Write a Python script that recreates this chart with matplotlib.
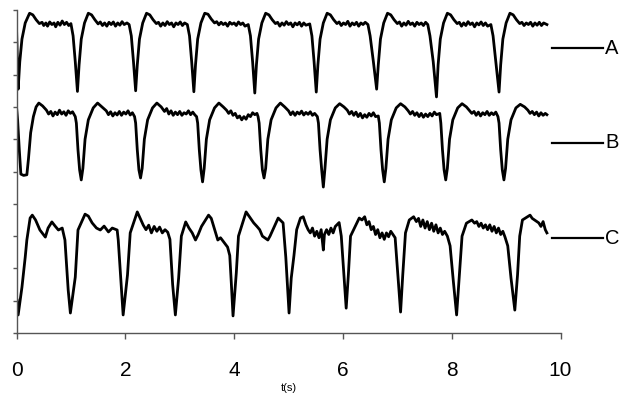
import matplotlib
matplotlib.use("Agg")
import matplotlib.pyplot as plt

plt.rcParams['font.family'] = ['Liberation Sans', 'DejaVu Sans']

# trace A (top)
tA = [0.0, 0.03, 0.06, 0.1, 0.16, 0.24, 0.3, 0.36, 0.42, 0.47, 0.5, 0.54, 0.57, 0.61, 0.65, 0.69, 0.72, 0.76, 0.8, 0.84, 0.88, 0.92, 0.96, 1.0, 1.04, 1.08, 1.12,
      1.15, 1.19, 1.25, 1.32, 1.38, 1.44, 1.5, 1.54, 1.58, 1.62, 1.66, 1.7, 1.74, 1.78, 1.82, 1.86, 1.9, 1.94, 1.98, 2.03, 2.07, 2.11, 2.15, 2.19,
      2.22, 2.26, 2.32, 2.39, 2.45, 2.51, 2.57, 2.61, 2.65, 2.69, 2.73, 2.77, 2.81, 2.85, 2.89, 2.93, 2.97, 3.01, 3.05, 3.09, 3.14, 3.18, 3.22, 3.26,
      3.29, 3.33, 3.39, 3.46, 3.52, 3.58, 3.64, 3.68, 3.72, 3.76, 3.8, 3.84, 3.88, 3.92, 3.96, 4.0, 4.04, 4.08, 4.12, 4.16, 4.2, 4.26, 4.3, 4.34, 4.38,
      4.41, 4.45, 4.51, 4.58, 4.64, 4.7, 4.76, 4.8, 4.84, 4.88, 4.92, 4.96, 5.0, 5.04, 5.08, 5.12, 5.16, 5.2, 5.24, 5.28, 5.32, 5.39, 5.43, 5.47, 5.51,
      5.54, 5.58, 5.64, 5.71, 5.77, 5.83, 5.89, 5.93, 5.97, 6.01, 6.05, 6.09, 6.13, 6.17, 6.21, 6.25, 6.29, 6.33, 6.37, 6.41, 6.46, 6.5, 6.56, 6.62,
      6.65, 6.69, 6.75, 6.82, 6.88, 6.94, 7.0, 7.04, 7.08, 7.12, 7.16, 7.2, 7.24, 7.28, 7.32, 7.36, 7.4, 7.44, 7.48, 7.52, 7.56, 7.6, 7.66, 7.72,
      7.75, 7.79, 7.85, 7.92, 7.98, 8.04, 8.1, 8.14, 8.18, 8.22, 8.26, 8.3, 8.34, 8.38, 8.42, 8.46, 8.5, 8.54, 8.58, 8.62, 8.66, 8.72, 8.76, 8.81, 8.87,
      8.9, 8.94, 9.0, 9.07, 9.13, 9.19, 9.25, 9.29, 9.33, 9.37, 9.41, 9.45, 9.49, 9.53, 9.57, 9.61, 9.65, 9.69, 9.75]
yA = [9.45, 7.55, 8.4, 9.1, 9.6, 9.9, 9.85, 9.7, 9.58, 9.62, 9.52, 9.6, 9.5, 9.63, 9.55, 9.6, 9.48, 9.62, 9.53, 9.66, 9.55, 9.62, 9.52, 9.58, 9.2, 8.4, 7.48,
      8.3, 9.1, 9.6, 9.9, 9.85, 9.7, 9.57, 9.63, 9.52, 9.6, 9.5, 9.62, 9.55, 9.63, 9.5, 9.6, 9.53, 9.64, 9.55, 9.6, 9.55, 9.2, 8.4, 7.5,
      8.3, 9.1, 9.6, 9.9, 9.85, 9.7, 9.58, 9.62, 9.5, 9.6, 9.52, 9.64, 9.55, 9.6, 9.48, 9.6, 9.55, 9.63, 9.52, 9.6, 9.55, 9.2, 8.4, 7.47,
      8.3, 9.1, 9.6, 9.9, 9.87, 9.72, 9.6, 9.64, 9.54, 9.62, 9.55, 9.6, 9.5, 9.62, 9.56, 9.6, 9.52, 9.63, 9.55, 9.6, 9.5, 9.55, 9.2, 8.4, 7.43,
      8.3, 9.1, 9.6, 9.9, 9.85, 9.7, 9.58, 9.62, 9.5, 9.6, 9.53, 9.64, 9.55, 9.6, 9.48, 9.6, 9.54, 9.62, 9.5, 9.6, 9.53, 9.57, 9.2, 8.4, 7.46,
      8.3, 9.1, 9.6, 9.9, 9.85, 9.7, 9.58, 9.63, 9.52, 9.6, 9.55, 9.65, 9.5, 9.6, 9.54, 9.62, 9.5, 9.6, 9.55, 9.62, 9.55, 9.2, 8.4, 7.55,
      8.3, 9.1, 9.6, 9.9, 9.85, 9.7, 9.58, 9.63, 9.5, 9.6, 9.53, 9.65, 9.55, 9.6, 9.5, 9.62, 9.55, 9.6, 9.52, 9.62, 9.55, 9.2, 8.4, 7.31,
      8.3, 9.1, 9.6, 9.9, 9.85, 9.7, 9.58, 9.62, 9.5, 9.6, 9.52, 9.64, 9.55, 9.6, 9.48, 9.6, 9.54, 9.63, 9.52, 9.6, 9.5, 9.55, 9.2, 8.4, 7.46,
      8.3, 9.1, 9.6, 9.9, 9.85, 9.7, 9.58, 9.62, 9.52, 9.6, 9.55, 9.62, 9.5, 9.6, 9.53, 9.62, 9.52, 9.6, 9.55]

# trace B (middle)
tB = [0.0, 0.02, 0.05, 0.08, 0.13, 0.19, 0.22, 0.26, 0.31, 0.36, 0.41, 0.48, 0.55, 0.59, 0.63, 0.67, 0.71, 0.75, 0.79, 0.83, 0.87, 0.91, 0.95, 0.99, 1.03, 1.08, 1.1, 1.13, 1.16, 1.19,
      1.22, 1.26, 1.32, 1.41, 1.49, 1.57, 1.65, 1.69, 1.73, 1.77, 1.81, 1.85, 1.89, 1.93, 1.97, 2.01, 2.05, 2.09, 2.13, 2.17, 2.19, 2.22, 2.25, 2.28,
      2.31, 2.35, 2.41, 2.5, 2.58, 2.66, 2.72, 2.76, 2.8, 2.84, 2.88, 2.92, 2.96, 3.0, 3.04, 3.08, 3.12, 3.16, 3.2, 3.24, 3.28, 3.31, 3.33, 3.36, 3.39, 3.42,
      3.45, 3.49, 3.55, 3.64, 3.72, 3.8, 3.86, 3.9, 3.94, 3.98, 4.02, 4.06, 4.1, 4.14, 4.18, 4.22, 4.26, 4.3, 4.34, 4.38, 4.42, 4.44, 4.46, 4.49, 4.52, 4.55,
      4.58, 4.62, 4.68, 4.77, 4.85, 4.93, 5.0, 5.04, 5.08, 5.12, 5.16, 5.2, 5.24, 5.28, 5.32, 5.36, 5.4, 5.44, 5.48, 5.53, 5.55, 5.58, 5.61, 5.64,
      5.67, 5.71, 5.77, 5.86, 5.94, 6.02, 6.08, 6.12, 6.16, 6.2, 6.24, 6.28, 6.32, 6.36, 6.4, 6.44, 6.48, 6.52, 6.56, 6.6, 6.65, 6.67, 6.7, 6.73, 6.76,
      6.79, 6.83, 6.89, 6.98, 7.06, 7.14, 7.2, 7.24, 7.28, 7.32, 7.36, 7.4, 7.44, 7.48, 7.52, 7.56, 7.6, 7.64, 7.68, 7.72, 7.78, 7.8, 7.83, 7.86, 7.89,
      7.92, 7.96, 8.02, 8.11, 8.19, 8.27, 8.33, 8.37, 8.41, 8.45, 8.49, 8.53, 8.57, 8.61, 8.65, 8.69, 8.73, 8.77, 8.81, 8.85, 8.87, 8.9, 8.93, 8.96,
      8.99, 9.03, 9.09, 9.18, 9.26, 9.34, 9.4, 9.44, 9.48, 9.52, 9.56, 9.6, 9.64, 9.68, 9.72, 9.75]
yB = [7.0, 6.6, 5.7, 4.92, 4.88, 4.9, 5.4, 6.2, 6.7, 7.0, 7.12, 7.03, 6.9, 6.78, 6.86, 6.72, 6.84, 6.76, 6.9, 6.78, 6.85, 6.74, 6.88, 6.8, 6.85, 6.7, 6.5, 5.67, 5.05, 4.74,
      5.1, 6.0, 6.6, 6.97, 7.12, 7.0, 6.88, 6.76, 6.85, 6.72, 6.82, 6.75, 6.86, 6.74, 6.84, 6.78, 6.88, 6.75, 6.82, 6.7, 6.5, 5.67, 5.05, 4.8,
      5.1, 6.0, 6.6, 6.97, 7.12, 7.0, 6.86, 6.95, 6.78, 6.88, 6.74, 6.84, 6.76, 6.86, 6.74, 6.82, 6.78, 6.88, 6.76, 6.84, 6.75, 6.7, 6.5, 5.67, 5.05, 4.68,
      5.1, 6.0, 6.6, 6.97, 7.12, 7.0, 6.9, 6.8, 6.88, 6.74, 6.8, 6.66, 6.72, 6.6, 6.7, 6.62, 6.76, 6.7, 6.82, 6.76, 6.8, 6.7, 6.5, 5.67, 5.05, 4.8,
      5.1, 6.0, 6.6, 6.97, 7.12, 7.0, 6.88, 6.76, 6.85, 6.74, 6.84, 6.78, 6.87, 6.75, 6.83, 6.77, 6.85, 6.74, 6.8, 6.7, 6.5, 5.67, 5.05, 4.52,
      5.1, 6.0, 6.6, 6.97, 7.1, 7.0, 6.9, 6.78, 6.86, 6.74, 6.84, 6.7, 6.8, 6.66, 6.76, 6.68, 6.8, 6.72, 6.82, 6.7, 6.72, 6.5, 5.67, 5.05, 4.68,
      5.1, 6.0, 6.6, 6.97, 7.1, 7.0, 6.88, 6.78, 6.86, 6.74, 6.82, 6.7, 6.8, 6.68, 6.78, 6.7, 6.8, 6.72, 6.84, 6.76, 6.8, 6.5, 5.67, 5.05, 4.74,
      5.1, 6.0, 6.6, 6.97, 7.1, 7.0, 6.88, 6.8, 6.86, 6.74, 6.84, 6.72, 6.82, 6.76, 6.86, 6.74, 6.82, 6.76, 6.84, 6.7, 6.5, 5.67, 5.05, 4.74,
      5.1, 6.0, 6.6, 6.97, 7.08, 7.0, 6.9, 6.8, 6.86, 6.76, 6.84, 6.72, 6.82, 6.74, 6.8, 6.76]

# trace C (bottom)
tC = [0.01, 0.03, 0.1, 0.16, 0.19, 0.25, 0.29, 0.35, 0.43, 0.53, 0.58, 0.65, 0.71, 0.77, 0.84, 0.89, 0.95, 0.99,
      1.08, 1.13, 1.26, 1.32, 1.39, 1.47, 1.54, 1.61, 1.69, 1.76, 1.85, 1.87, 1.93, 1.96,
      2.04, 2.09, 2.22, 2.33, 2.38, 2.43, 2.48, 2.53, 2.58, 2.63, 2.68, 2.73, 2.78, 2.82, 2.87, 2.92,
      2.98, 3.03, 3.11, 3.17, 3.23, 3.29, 3.34, 3.4, 3.53, 3.58, 3.7, 3.75, 3.88, 3.92, 3.95, 3.98,
      4.04, 4.08, 4.22, 4.36, 4.42, 4.47, 4.52, 4.62, 4.66, 4.81, 4.9, 4.95, 5.01,
      5.05, 5.1, 5.15, 5.22, 5.27, 5.32, 5.36, 5.4, 5.44, 5.48, 5.52, 5.56, 5.6, 5.64, 5.66, 5.7, 5.74, 5.78, 5.82, 5.86, 5.93, 5.97, 6.01, 6.06,
      6.1, 6.14, 6.3, 6.35, 6.4, 6.44, 6.48, 6.52, 6.56, 6.6, 6.64, 6.68, 6.72, 6.76, 6.8, 6.84, 6.88, 6.92, 6.96, 7.01, 7.06,
      7.1, 7.15, 7.22, 7.3, 7.35, 7.39, 7.43, 7.47, 7.51, 7.55, 7.59, 7.63, 7.67, 7.71, 7.75, 7.79, 7.83, 7.87, 7.92, 7.97, 8.03, 8.09,
      8.14, 8.19, 8.27, 8.37, 8.42, 8.46, 8.5, 8.54, 8.58, 8.62, 8.66, 8.7, 8.74, 8.78, 8.82, 8.86, 8.9, 8.94, 8.98, 9.03, 9.09, 9.16,
      9.21, 9.25, 9.3, 9.44, 9.48, 9.6, 9.64, 9.68, 9.72, 9.75]
yC = [1.02, 0.56, 1.42, 2.35, 2.88, 3.56, 3.65, 3.5, 3.19, 2.97, 3.25, 3.44, 3.31, 3.19, 3.25, 2.88, 1.33, 0.62,
      1.73, 3.19, 3.68, 3.62, 3.41, 3.25, 3.19, 3.31, 3.13, 3.25, 3.19, 2.88, 1.33, 0.56,
      1.8, 3.1, 3.75, 3.34, 3.2, 3.34, 3.1, 3.3, 3.15, 3.28, 3.1, 3.2, 3.12, 2.9, 1.5, 0.56,
      1.7, 3.0, 3.44, 3.25, 3.1, 2.88, 3.05, 3.3, 3.65, 3.55, 2.88, 2.95, 2.66, 2.4, 1.5, 0.53,
      1.86, 3.0, 3.75, 3.41, 3.3, 3.2, 3.0, 2.88, 3.0, 3.56, 3.41, 2.35, 0.62,
      1.7, 2.4, 3.2, 3.56, 3.6, 3.35, 3.2, 3.1, 3.25, 3.0, 3.15, 2.95, 3.2, 2.57, 3.05, 3.2, 3.05, 3.25, 3.1, 3.3, 3.42, 3.0, 2.0, 0.77,
      1.8, 3.0, 3.56, 3.5, 3.6, 3.35, 3.45, 3.2, 3.3, 3.05, 3.2, 2.95, 3.1, 2.9, 3.1, 2.98, 3.15, 3.05, 2.95, 1.8, 0.65,
      1.8, 3.1, 3.5, 3.6, 3.45, 3.55, 3.3, 3.5, 3.25, 3.45, 3.2, 3.4, 3.15, 3.35, 3.1, 3.25, 3.05, 3.15, 3.0, 2.7, 1.6, 0.56,
      1.8, 3.0, 3.4, 3.5, 3.4, 3.45, 3.3, 3.4, 3.25, 3.35, 3.2, 3.35, 3.15, 3.3, 3.1, 3.25, 3.05, 3.15, 2.97, 2.7, 1.7, 0.71,
      1.8, 3.0, 3.5, 3.65, 3.55, 3.41, 3.3, 3.45, 3.2, 3.1]

names = ['A', 'B', 'C']
name_y = [8.81, 5.89, 2.93]

fig = plt.figure(figsize=(6.21, 3.96), dpi=100)
ax = fig.add_axes([0.0266, 0.159, 0.876, 0.8157])

for t, y in [(tA, yA), (tB, yB), (tC, yC)]:
    ax.plot(t, y, color='black', lw=2.0)

# trace names on the right
for n, yy in zip(names, name_y):
    ax.plot([9.84, 10.78], [yy, yy], color='black', lw=1.6, clip_on=False)
    ax.text(10.82, yy, n, fontsize=14.5, va='center', ha='left')

ax.set_xlim(0, 10)
ax.set_ylim(0, 10)
ax.set_xticks([0, 2, 4, 6, 8, 10])
ax.set_yticks(range(0, 11))
ax.set_yticklabels([])
ax.tick_params(axis='x', direction='out', length=4, width=1, color='#555555', labelsize=15, pad=16)
ax.tick_params(axis='y', direction='out', length=3, width=1, color='#555555')
ax.spines['top'].set_visible(False)
ax.spines['right'].set_visible(False)
for s in ['left', 'bottom']:
    ax.spines[s].set_color('#555555')
    ax.spines[s].set_linewidth(1)
ax.set_xlabel('t(s)', fontsize=8, labelpad=2)

fig.savefig('out.png', dpi=100)
